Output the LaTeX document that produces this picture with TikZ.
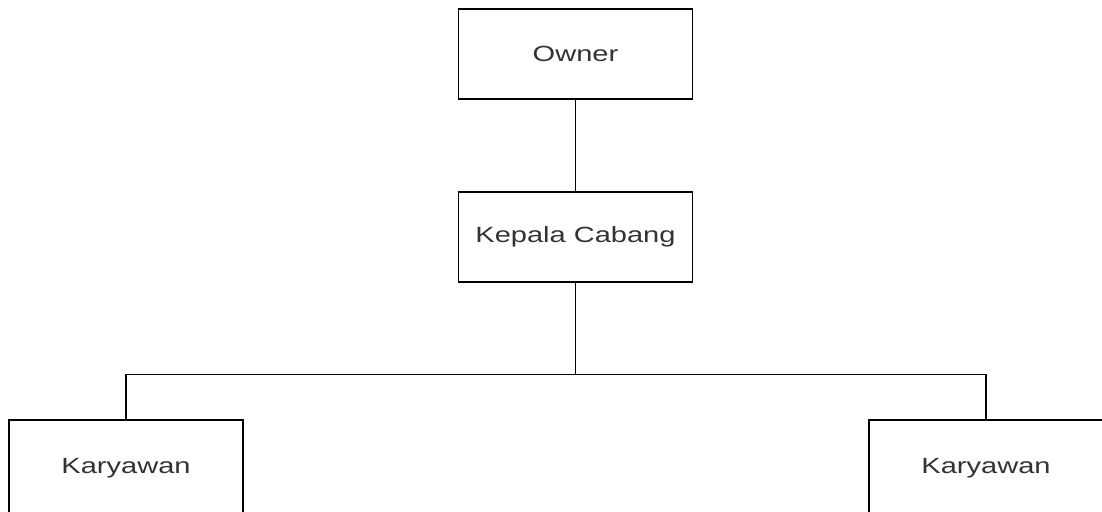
\documentclass[tikz,border=0pt]{standalone}
\usepackage{fontspec}
\setmainfont{Liberation Sans}
\usepackage{graphicx}
\definecolor{txt}{HTML}{333333}
\newcommand{\sx}[1]{\scalebox{1.32}[1]{#1}}
\begin{document}
\begin{tikzpicture}[x=1pt,y=1pt,
  orgbox/.style={draw=black,line width=1.5pt,fill=white,minimum width=234pt,minimum height=90pt,inner sep=0pt,
    font=\fontsize{22}{26}\selectfont,text=txt},
  link/.style={draw=black,line width=1.5pt}]
\useasboundingbox (0,0) rectangle (1102,-511);
\node[orgbox] (owner) at (575.5,-54) {\sx{Owner}};
\node[orgbox] (kepala) at (575.5,-237) {\sx{Kepala Cabang}};
\node[orgbox,minimum height=96pt] (kar1) at (126,-468) {\sx{Karyawan}};
\node[orgbox,minimum height=96pt] (kar2) at (986,-468) {\sx{Karyawan}};
\coordinate (bus) at (575.5,-374.5);
\draw[link] (owner.south) -- (kepala.north);
\draw[link] (kepala.south) -- (bus);
\draw[link] (kar1.north) |- (bus) -| (kar2.north);
\end{tikzpicture}
\end{document}
